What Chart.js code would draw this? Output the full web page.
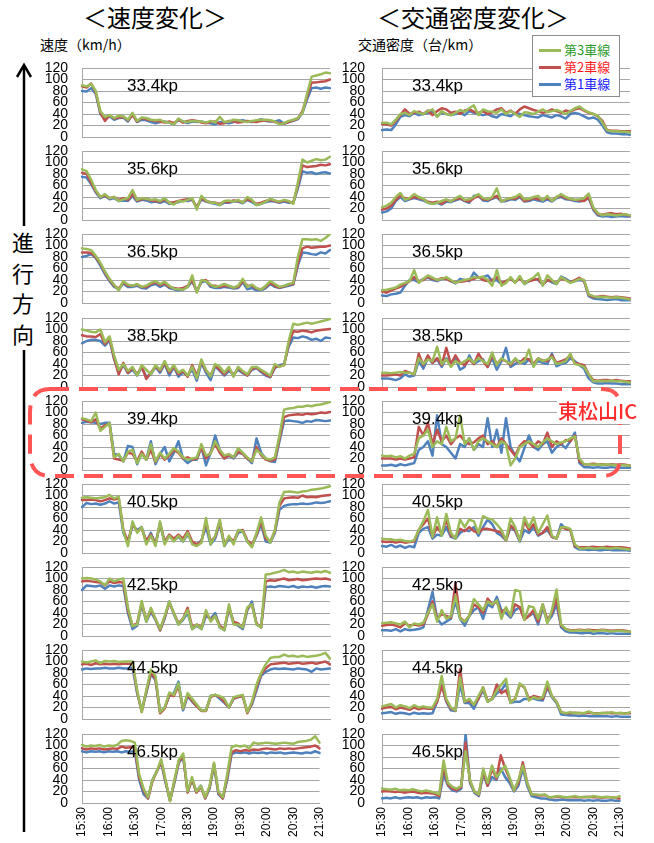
<!DOCTYPE html>
<html><head><meta charset="utf-8">
<script src="https://cdn.jsdelivr.net/npm/chart.js@4.4.1/dist/chart.umd.min.js"></script>
<style>
html,body{margin:0;padding:0;background:#fff;}
#root{position:relative;width:654px;height:843px;overflow:hidden;font-family:"Liberation Sans",Arial,sans-serif;}
canvas{position:absolute;}
.abs{position:absolute;white-space:nowrap;}
.jp{font-family:"Noto Sans CJK JP",sans-serif;}
.kp{position:absolute;font-size:17px;line-height:17px;color:#000;white-space:nowrap;z-index:3;}
</style></head>
<body><div id="root">
<div class="abs jp" style="left:43px;top:2px;width:224px;text-align:center;font-size:24px;line-height:30px;">＜速度変化＞</div>
<div class="abs jp" style="left:361px;top:2px;width:224px;text-align:center;font-size:24px;line-height:30px;">＜交通密度変化＞</div>
<div class="abs jp" style="left:40px;top:34px;font-size:14px;line-height:20px;">速度（km/h）</div>
<div class="abs jp" style="left:358px;top:34px;font-size:14px;line-height:20px;">交通密度（台/km）</div>
<div class="abs jp" style="left:8px;top:226px;width:30px;text-align:center;font-size:22px;line-height:30.5px;">進<br>行<br>方<br>向</div>
<div id="legend" class="abs" style="left:532px;top:35px;width:86px;height:60px;border:1px solid #8c8c8c;background:#fff;z-index:5;"></div>
<svg width="654" height="843" style="position:absolute;left:0;top:0;z-index:4;pointer-events:none">
 <line x1="24" y1="66" x2="24" y2="226" stroke="#000" stroke-width="2.5"/>
 <polyline points="17,77 24,65 31,77" fill="none" stroke="#000" stroke-width="2.5"/>
 <line x1="24" y1="350" x2="24" y2="832" stroke="#000" stroke-width="2.5"/>
 <path d="M 50 389 L 602 389 Q 620 389 620 407 L 620 458 Q 620 476 602 476 L 50 476 Q 30 476 30 452 L 30 413 Q 30 389 50 389 Z" fill="none" stroke="#ff5555" stroke-width="4" stroke-dasharray="19 10"/>
</svg>
<div class="abs jp" style="left:557px;top:398px;font-size:20px;line-height:26px;font-weight:500;color:#ff2a2a;background:#fff;z-index:6;padding:0 1px;">東松山IC</div>
</div>
<script>
// ---- tick labels & names ----
const timeLabels = ['15:30','16:00','16:30','17:00','18:30','19:00','19:30','20:00','20:30','21:30'];
const kpNames = ['33.4kp','35.6kp','36.5kp','38.5kp','39.4kp','40.5kp','42.5kp','44.5kp','46.5kp'];
const laneNames = ['第3車線','第2車線','第1車線'];

// ---- speed (km/h) : s<kp>_<lane> ----
const s334_3 = [90,88,92,80,45,35,38,33,37,36,30, 42,28,34,33,30,29,30,26,25,22,32, 27,26,28,27,27,25,28,25,35,26,27, 30,29,27,26,28,29,30,30,29,27,22, 24,28,30,33,42,75,105,107,109,112,111];
const s334_2 = [88,86,93,78,42,28,38,32,34,35,29, 38,27,33,31,29,28,27,25,27,24,30, 25,28,29,28,25,24,26,27,23,24,28, 27,25,26,28,27,26,28,29,28,26,24, 24,26,29,32,45,70,95,95,96,97,100];
const s334_1 = [80,79,85,75,40,32,36,30,33,34,27, 40,26,30,29,26,24,26,27,25,22,30, 27,24,27,26,27,25,24,22,26,25,24, 26,28,29,27,26,28,31,28,27,27,29, 23,26,28,31,42,65,85,86,84,86,85];

const s356_3 = [88,85,70,52,40,45,38,40,33,36,38, 52,35,38,37,35,36,33,38,30,27,33, 32,35,38,18,42,34,30,30,26,33,34, 32,35,30,40,35,26,28,32,37,34,32, 35,33,28,65,105,100,103,106,104,105,110];
const s356_2 = [82,80,65,50,40,43,38,40,35,38,35, 45,34,36,37,34,33,32,36,30,31,33, 35,36,36,22,38,33,31,30,28,32,31, 34,33,31,36,33,28,30,33,35,33,31, 34,32,30,60,95,92,93,94,96,95,97];
const s356_1 = [75,74,62,48,38,42,36,38,33,34,33, 42,32,35,34,31,32,30,33,28,30,31, 34,33,35,22,36,32,30,28,26,30,30, 32,32,29,35,31,26,28,31,33,32,30, 32,30,30,55,85,82,83,80,82,83,81];

const s365_3 = [95,94,92,82,70,55,42,32,22,38,32, 30,33,28,30,35,38,33,37,30,25,24, 23,28,48,18,40,38,32,28,30,33,30, 27,30,42,28,32,26,23,30,38,33,28, 30,33,35,80,111,111,110,111,108,113,120];
const s365_2 = [88,88,87,80,68,53,40,30,25,36,30, 30,32,28,28,33,36,31,34,28,26,25, 26,30,40,20,38,40,30,30,28,30,29, 27,28,38,30,30,25,24,28,35,30,27, 29,32,33,70,95,98,96,97,98,98,100];
const s365_1 = [80,82,85,78,65,50,38,28,24,34,28, 28,30,26,25,31,33,28,32,26,24,22, 23,28,38,20,36,38,28,26,26,28,27, 25,26,36,24,26,22,22,26,33,28,26, 28,30,32,65,88,87,85,84,88,86,92];

const s385_3 = [100,98,96,95,100,78,88,55,30,40,28, 35,20,38,30,22,38,30,45,28,38,25, 30,20,35,15,48,30,18,40,35,25,35, 18,35,28,22,35,35,30,25,20,40,35, 38,80,110,108,110,112,110,112,114,116,118];
const s385_2 = [90,88,88,87,92,75,85,50,22,42,25, 33,22,36,14,25,36,28,42,25,36,22, 28,18,38,20,45,28,20,38,30,22,32, 20,33,26,20,32,34,28,22,18,35,36, 38,75,97,96,98,97,95,98,99,100,101];
const s385_1 = [76,80,82,82,80,72,82,48,25,38,24, 30,20,34,18,22,35,25,40,20,35,18, 25,20,30,11,42,25,12,36,28,20,28, 22,30,24,20,30,33,26,20,17,33,38, 40,70,86,85,88,86,82,84,80,86,85];

const s394_3 = [90,88,85,100,68,75,82,22,28,15,32, 35,12,28,18,45,15,30,20,28,38,32, 22,18,20,22,45,25,28,50,35,25,28, 22,38,30,22,15,35,28,20,18,22,60, 105,107,108,110,110,112,111,113,114,116,118];
const s394_2 = [88,86,83,88,72,78,80,20,18,16,30, 28,15,32,18,35,14,28,18,25,35,30, 20,22,18,20,40,20,30,45,30,20,26, 22,32,28,20,15,40,26,18,16,18,55, 92,95,96,97,96,98,97,98,100,99,101];
const s394_1 = [82,84,83,82,80,82,82,28,26,15,42, 40,10,30,18,50,10,28,40,15,30,50, 20,12,18,18,40,8,30,60,35,20,25, 20,30,28,20,12,55,30,20,15,14,50, 85,86,85,84,82,85,84,87,86,85,86];

const s405_3 = [96,97,96,95,96,97,101,95,98,38,12, 55,35,45,15,30,12,55,15,30,20,30, 20,35,15,12,18,61,15,30,58,12,30, 15,40,38,20,10,35,62,30,18,40,88, 106,107,106,105,107,108,110,111,112,114,116];
const s405_2 = [92,92,93,92,90,92,95,93,95,40,20, 50,38,42,22,32,15,52,20,32,25,32, 25,38,20,15,20,55,20,28,55,15,28, 20,38,40,22,15,32,55,25,20,38,82, 95,96,97,96,100,97,98,97,99,100,101];
const s405_1 = [80,87,85,86,84,86,90,86,88,35,18, 48,40,45,18,35,15,50,18,30,22,28, 20,32,18,15,22,45,15,25,52,12,25, 18,35,38,20,12,30,50,20,18,35,75, 82,84,85,85,86,85,86,88,87,88,90];

const s425_3 = [100,101,100,98,95,88,100,95,98,100,50, 17,20,61,25,49,30,12,35,60,40,20, 30,45,12,20,12,45,25,35,15,10,55, 20,20,15,50,55,20,15,107,108,110,112, 115,111,112,110,112,111,110,112,111,113,110];
const s425_2 = [95,96,95,94,93,88,95,92,94,93,45, 18,22,58,28,45,30,10,33,58,40,22, 30,49,15,20,15,40,28,35,18,12,50, 25,22,15,48,55,22,15,95,97,96,98, 100,97,98,99,97,98,99,100,99,100,98];
const s425_1 = [80,88,87,86,88,82,88,86,88,87,40, 12,18,55,25,42,28,10,30,60,38,20, 28,40,12,18,12,35,30,40,15,10,48, 22,18,12,45,60,20,15,85,86,85,87, 86,85,87,84,86,85,86,84,86,87,86];

const s445_3 = [100,98,100,102,97,101,100,101,99,100,100, 100,50,12,50,86,75,12,20,46,42,62, 18,45,35,25,15,15,40,42,40,35,20, 38,40,42,12,30,60,80,95,106,108,108, 112,109,110,108,110,108,109,110,112,115,105];
const s445_2 = [95,96,94,97,95,96,95,96,95,96,96, 96,48,12,48,80,70,10,18,42,40,58, 18,42,32,22,14,14,38,42,38,30,20, 36,38,40,10,28,55,78,88,95,96,97, 98,96,97,98,96,97,98,96,98,100,95];
const s445_1 = [86,88,87,88,88,89,88,88,89,88,88, 89,45,15,45,78,68,12,20,40,45,65, 15,40,30,22,15,15,40,42,35,28,20, 35,38,40,12,25,50,75,82,86,88,87, 88,87,86,88,87,86,82,88,86,87,88];

const s465_3 = [101,98,100,99,101,98,100,99,101,108,109, 108,105,50,25,10,40,55,76,40,3,40, 75,86,20,45,20,30,10,30,70,20,10, 50,97,100,98,100,95,105,103,104,105,104, 103,104,105,104,103,106,107,108,110,116,105];
const s465_2 = [95,93,95,94,95,93,94,95,94,98,96, 97,96,45,22,8,38,55,72,38,4,38, 72,82,18,42,18,28,8,28,68,18,8, 45,88,92,90,92,91,93,92,94,95,94, 93,95,94,95,94,95,96,97,98,100,95];
const s465_1 = [90,88,90,89,90,88,90,89,90,88,90, 89,90,40,15,8,40,55,70,35,4,35, 70,80,20,40,20,30,8,25,65,15,8, 40,85,88,87,88,86,88,87,88,86,88, 87,88,86,87,88,87,86,88,87,90,87];

// ---- density (vehicles/km) : d<kp>_<lane> ----
const d334_3 = [25,25,22,30,40,42,38,45,42,40,45, 48,35,45,40,38,42,47,44,50,55,38, 48,45,44,42,48,40,45,40,35,43,42, 40,44,48,43,45,47,44,40,45,50,53, 47,43,40,37,25,12,10,10,9,9,8];
const d334_2 = [22,22,20,28,38,48,40,42,44,40,46, 38,45,50,48,42,44,40,46,48,44,42, 45,40,43,48,50,42,46,40,48,53,50, 47,45,42,44,48,45,42,46,44,48,50, 46,42,40,36,28,12,11,11,10,10,10];
const d334_1 = [12,13,12,22,35,38,36,42,38,40,42, 44,36,42,40,38,40,42,38,45,42,40, 38,40,36,34,40,38,36,42,40,38,36, 35,34,38,36,34,38,36,32,40,42,40, 36,32,34,30,20,8,6,6,5,5,4];

const d356_3 = [22,25,30,40,47,35,38,45,40,37,30, 28,30,33,36,32,38,42,35,36,40,45, 38,36,40,55,32,36,38,40,45,36,37, 40,42,34,42,33,40,45,40,37,35,36, 38,46,22,12,8,10,9,8,9,10,8];
const d356_2 = [18,20,25,35,42,38,37,40,38,36,32, 30,32,28,34,33,36,38,34,32,38,42, 36,35,38,42,33,35,38,37,42,33,35, 38,36,35,38,34,40,42,38,36,35,34, 33,40,20,10,9,11,12,10,11,9,8];
const d356_1 = [13,15,20,33,40,33,36,38,36,34,30, 28,30,27,32,31,34,37,33,30,42,42, 34,33,37,40,32,33,36,35,40,32,33, 36,34,32,36,32,38,40,36,35,33,32, 34,38,18,8,6,7,5,6,7,6,6];

const d365_3 = [22,23,25,27,32,35,38,57,35,42,48, 44,40,42,45,40,35,38,40,42,45,44, 46,40,30,57,30,35,45,35,47,33,40, 44,52,30,48,40,33,45,40,35,38,42, 40,15,12,10,11,10,9,10,9,8,6];
const d365_2 = [20,18,22,25,28,33,38,45,38,40,46, 42,40,43,42,38,36,37,38,40,42,45, 40,38,40,45,35,38,42,36,43,35,38, 40,42,32,40,38,35,42,40,36,40,44, 38,14,10,11,12,11,10,11,10,9,8];
const d365_1 = [13,12,15,16,18,30,40,40,36,42,44, 40,38,42,43,38,34,42,40,38,53,44, 45,48,38,40,33,38,42,36,45,33,38, 42,40,32,40,36,33,46,42,37,38,40, 38,12,8,7,6,5,6,7,5,5,5];

const d385_3 = [25,25,24,25,26,25,25,22,50,40,48, 45,70,40,48,35,45,40,45,50,42,50, 45,40,60,38,50,45,40,50,42,45,65, 35,50,45,48,52,40,42,45,58,40,38, 35,22,10,10,11,10,11,10,10,9,8];
const d385_2 = [20,20,21,22,20,28,25,22,58,38,55, 42,50,38,68,40,55,42,38,48,40,58, 45,35,55,40,48,45,38,48,42,50,48, 40,50,46,45,55,42,45,48,55,42,40, 38,22,12,11,12,12,11,12,11,10,10];
const d385_1 = [15,15,14,12,15,22,18,20,45,32,50, 42,48,35,50,38,50,30,35,55,40,45, 48,35,50,30,45,68,35,40,45,40,48, 38,45,42,40,58,36,40,42,50,45,38, 32,15,8,6,6,7,6,6,5,5,5];

const d394_3 = [25,24,25,22,24,20,25,28,55,60,70, 40,50,45,75,50,55,95,45,55,35,50, 55,50,45,40,50,45,8,20,40,45,50, 45,40,48,55,50,45,48,50,55,58,20, 10,10,9,10,9,10,9,8,9,8,8];
const d394_2 = [20,20,20,18,20,18,20,22,75,60,82, 45,70,50,60,45,55,60,50,45,48,55, 60,45,50,40,55,45,35,25,42,50,48, 40,50,45,65,40,50,45,52,50,60,15, 10,10,11,10,10,9,10,9,10,9,8];
const d394_1 = [8,8,9,7,10,8,10,12,35,40,50, 25,95,45,40,30,20,45,40,55,35,45, 40,90,40,70,30,90,40,25,15,38,60, 40,35,45,50,30,40,45,38,50,65,12, 5,5,4,5,4,4,5,4,4,4,4];

const d405_3 = [25,24,24,22,23,21,20,22,40,55,75, 28,62,30,68,35,25,58,45,58,55,35, 64,60,58,50,40,22,60,45,22,62,45, 62,35,50,65,30,25,45,45,42,15,8, 8,9,8,8,9,8,8,9,8,7,6];
const d405_2 = [20,19,20,18,20,18,19,20,40,50,60, 28,45,33,58,30,28,42,38,45,38,35, 42,42,40,38,35,22,48,40,22,55,40, 50,32,35,45,28,25,45,42,40,12,10, 10,10,11,10,10,11,10,10,10,9,8];
const d405_1 = [12,11,14,10,13,9,12,10,35,42,45, 25,32,30,45,28,25,35,40,38,45,30, 45,58,50,35,30,22,45,38,20,40,35, 45,30,35,40,28,25,50,42,40,10,6, 6,5,6,5,5,6,5,5,5,5,4];

const d425_3 = [22,23,24,22,20,25,15,22,20,23,40, 55,25,45,30,35,70,30,25,35,64,55, 45,60,55,62,30,50,35,80,78,28,52, 50,30,55,22,45,81,20,12,9,9,10, 9,10,8,9,10,9,8,9,9,8,8];
const d425_2 = [18,19,20,18,15,22,18,20,18,20,38, 60,30,38,35,32,92,32,25,35,55,50, 40,65,55,60,40,48,35,55,50,28,35, 45,25,55,28,40,65,18,12,10,10,11, 10,11,10,10,11,10,9,10,10,9,8];
const d425_1 = [10,10,9,12,8,12,10,11,12,15,45, 77,30,20,25,30,60,30,18,35,45,50, 30,55,50,68,45,40,32,45,50,30,35, 40,20,50,25,35,55,15,8,6,6,5, 5,6,4,5,5,4,5,4,4,4,4];

const d445_3 = [22,24,26,20,24,22,19,24,20,22,20, 20,35,75,35,20,15,72,30,35,25,40, 55,30,35,50,60,70,28,35,62,55,32, 38,35,38,65,40,30,12,10,12,10,11, 10,13,10,9,11,10,12,10,11,9,12];
const d445_2 = [18,20,21,17,20,18,16,20,17,19,18, 18,30,58,32,18,15,86,30,32,25,35, 55,32,35,60,45,50,30,35,60,55,35, 40,38,35,58,40,30,12,10,10,11,10, 10,11,10,10,10,11,10,10,10,10,10];
const d445_1 = [10,11,12,9,11,10,8,11,9,10,9, 10,30,60,30,15,14,60,28,28,18,35, 50,30,35,45,50,62,28,30,30,35,35, 36,33,32,55,38,28,8,7,6,6,5, 6,5,5,5,5,5,4,5,4,4,4];

const d465_3 = [25,24,23,25,22,23,22,24,22,20,22, 20,18,15,74,35,28,25,30,90,40,20, 15,60,35,65,45,55,65,45,22,40,65, 35,15,15,14,15,10,11,12,11,10,11, 12,10,11,10,12,11,10,11,10,9,12];
const d465_2 = [20,21,20,19,20,18,19,20,18,17,18, 17,16,12,62,32,25,22,28,105,38,20, 14,55,30,60,42,83,60,42,22,35,71, 35,15,14,13,14,10,10,11,10,10,10, 10,10,10,11,10,10,9,10,10,9,8];
const d465_1 = [8,9,8,10,8,9,10,9,10,8,10, 9,10,8,50,30,22,20,25,120,35,18, 12,50,30,45,40,60,45,35,20,30,60, 30,12,10,8,8,6,5,5,6,5,5, 5,5,4,5,4,5,4,4,5,4,4];

// ---- assemble ----
const speedPanels = [
  [s334_3,s334_2,s334_1],[s356_3,s356_2,s356_1],[s365_3,s365_2,s365_1],
  [s385_3,s385_2,s385_1],[s394_3,s394_2,s394_1],[s405_3,s405_2,s405_1],
  [s425_3,s425_2,s425_1],[s445_3,s445_2,s445_1],[s465_3,s465_2,s465_1]];
const densityPanels = [
  [d334_3,d334_2,d334_1],[d356_3,d356_2,d356_1],[d365_3,d365_2,d365_1],
  [d385_3,d385_2,d385_1],[d394_3,d394_2,d394_1],[d405_3,d405_2,d405_1],
  [d425_3,d425_2,d425_1],[d445_3,d445_2,d445_1],[d465_3,d465_2,d465_1]];

const lineColors = ['#9BBB59','#C0504D','#4F81BD'];
const legendTextColors = ['#2e9a2e','#ff1a1a','#1a1aff'];
const N = s334_3.length;
const STEP = (N - 1) / (timeLabels.length - 1);
const categories = Array.from({length: N}, (_, i) => (i % STEP === 0) ? timeLabels[i / STEP] : '');

const root = document.getElementById('root');
const ROW_Y = Array.from({length: 9}, (_, i) => Math.round(68 + i * 83.2));
const COLS = [
  {left: 0, width: 338, yw: 82, pad: 14, labelX: 127},
  {left: 330, width: 308, yw: 52, pad: 17, labelX: 412}
];
const FONT = '"Liberation Sans", Arial, sans-serif';
Chart.defaults.font.family = FONT;

function buildChart(colIdx, rowIdx, series) {
  const col = COLS[colIdx];
  const isBottom = rowIdx === 8;
  const xH = isBottom ? 40 : 10;
  const h = 10 + 69 + xH;
  const cv = document.createElement('canvas');
  cv.width = col.width; cv.height = h;
  cv.style.left = col.left + 'px';
  cv.style.top = (ROW_Y[rowIdx] - 10) + 'px';
  cv.style.width = col.width + 'px';
  cv.style.height = h + 'px';
  root.appendChild(cv);
  new Chart(cv, {
    type: 'line',
    data: {
      labels: categories,
      datasets: series.map((d, k) => ({
        label: laneNames[k], data: d, borderColor: lineColors[k], backgroundColor: lineColors[k],
        borderWidth: 2.5, pointRadius: 0, tension: 0, fill: false,
        borderJoinStyle: 'round', borderCapStyle: 'round'
      }))
    },
    options: {
      responsive: false, animation: false, devicePixelRatio: 1,
      layout: {padding: {top: 10, right: 8, left: 0, bottom: 0}},
      plugins: {legend: {display: false}, tooltip: {enabled: false}},
      scales: {
        x: {
          grid: {display: false, drawTicks: false},
          border: {display: true, color: '#a6a6a6', width: 1},
          ticks: {display: isBottom, autoSkip: false, maxRotation: 90, minRotation: 90, padding: 4,
                  color: '#000', font: {size: 12, family: FONT}},
          afterFit: s => { s.height = xH; }
        },
        y: {
          min: 0, max: 120,
          ticks: {stepSize: 20, autoSkip: false, padding: 0, color: '#000', font: {size: 14, family: FONT}},
          grid: {color: '#a6a6a6', drawTicks: true, tickLength: col.pad, tickColor: 'rgba(0,0,0,0)', lineWidth: 1},
          border: {display: true, color: '#a6a6a6', width: 1},
          afterFit: s => { s.width = col.yw; }
        }
      }
    }
  });
  const lab = document.createElement('div');
  lab.className = 'kp';
  lab.textContent = kpNames[rowIdx];
  lab.style.left = col.labelX + 'px';
  lab.style.top = (ROW_Y[rowIdx] + 9) + 'px';
  root.appendChild(lab);
}

for (let r = 0; r < 9; r++) {
  buildChart(0, r, speedPanels[r]);
  buildChart(1, r, densityPanels[r]);
}

// legend
const lg = document.getElementById('legend');
laneNames.forEach((name, k) => {
  const y = 7 + k * 17;
  const ln = document.createElement('div');
  ln.style.cssText = `position:absolute;left:6px;top:${y + 6}px;width:22px;height:3px;background:${lineColors[k]};`;
  lg.appendChild(ln);
  const tx = document.createElement('div');
  tx.className = 'jp';
  tx.style.cssText = `position:absolute;left:31px;top:${y - 1}px;font-size:13px;line-height:16px;color:${legendTextColors[k]};white-space:nowrap;`;
  tx.textContent = name;
  lg.appendChild(tx);
});
</script>
</body></html>
